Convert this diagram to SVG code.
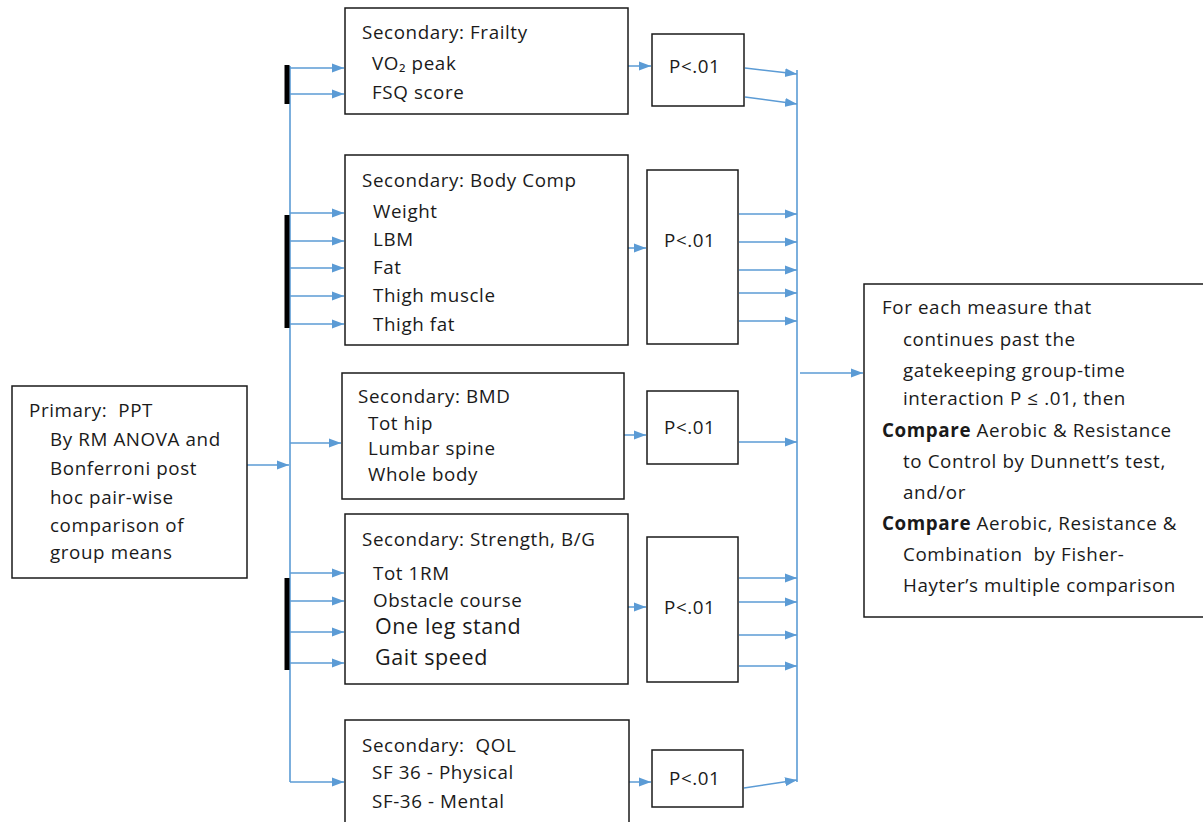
<svg xmlns="http://www.w3.org/2000/svg" width="1203" height="822" viewBox="0 0 1203 822">
<style>
.box{fill:#fff;stroke:#1a1a1a;stroke-width:1.5}
.t{font-family:"Open Sans",Lato,"Liberation Sans",sans-serif;font-size:18.8px;letter-spacing:0.6px;fill:#1a1a1a;white-space:pre}
.tl{font-size:21.5px}
.c{fill:none;stroke:#5b9bd5;stroke-width:1.6}
.a{fill:none;stroke:#5b9bd5;stroke-width:1.6;marker-end:url(#ah)}
.bar{stroke:#000;stroke-width:5}
.b{font-weight:bold}
</style>
<defs>
<marker id="ah" viewBox="0 0 12 10" refX="12" refY="5" markerWidth="12" markerHeight="10" markerUnits="userSpaceOnUse" orient="auto">
<path d="M0,0.5 L12,5 L0,9.5 z" fill="#5b9bd5"/>
</marker>
</defs>
<rect width="1203" height="822" fill="#fff"/>

<g id="connectors">
<line class="c" x1="290" y1="66" x2="290" y2="782"/>
<line class="c" x1="797" y1="70" x2="797" y2="782"/>
<line class="bar" x1="287" y1="65" x2="287" y2="104"/>
<line class="bar" x1="287" y1="215" x2="287" y2="328"/>
<line class="bar" x1="287" y1="578" x2="287" y2="670"/>
<line class="a" x1="247" y1="465" x2="289" y2="465"/>
<line class="a" x1="290" y1="68" x2="344" y2="68"/>
<line class="a" x1="290" y1="94" x2="344" y2="94"/>
<line class="a" x1="290" y1="213" x2="344" y2="213"/>
<line class="a" x1="290" y1="241" x2="344" y2="241"/>
<line class="a" x1="290" y1="268" x2="344" y2="268"/>
<line class="a" x1="290" y1="296" x2="344" y2="296"/>
<line class="a" x1="290" y1="324" x2="344" y2="324"/>
<line class="a" x1="290" y1="443" x2="341" y2="443"/>
<line class="a" x1="290" y1="573" x2="344" y2="573"/>
<line class="a" x1="290" y1="601" x2="344" y2="601"/>
<line class="a" x1="290" y1="632" x2="344" y2="632"/>
<line class="a" x1="290" y1="663" x2="344" y2="663"/>
<line class="a" x1="290" y1="782" x2="344" y2="782"/>
<line class="a" x1="596" y1="66" x2="651" y2="66"/>
<line class="a" x1="598" y1="248" x2="646" y2="248"/>
<line class="a" x1="593" y1="435" x2="646" y2="435"/>
<line class="a" x1="597" y1="607" x2="646" y2="607"/>
<line class="a" x1="597" y1="782" x2="651" y2="782"/>
<line class="a" x1="745" y1="68" x2="797" y2="74"/>
<line class="a" x1="745" y1="97" x2="797" y2="104"/>
<line class="a" x1="739" y1="214" x2="797" y2="214"/>
<line class="a" x1="739" y1="242" x2="797" y2="242"/>
<line class="a" x1="739" y1="270" x2="797" y2="270"/>
<line class="a" x1="739" y1="293" x2="797" y2="293"/>
<line class="a" x1="739" y1="321" x2="797" y2="321"/>
<line class="a" x1="739" y1="442" x2="797" y2="442"/>
<line class="a" x1="739" y1="578" x2="797" y2="578"/>
<line class="a" x1="739" y1="602" x2="797" y2="602"/>
<line class="a" x1="739" y1="635" x2="797" y2="635"/>
<line class="a" x1="739" y1="666" x2="797" y2="666"/>
<line class="a" x1="744" y1="788" x2="797" y2="780"/>
<line class="a" x1="800" y1="373" x2="863" y2="373"/>
</g>

<g id="primary">
<rect class="box" x="12" y="386" width="235" height="192"/>
<text class="t" x="29" y="417">Primary:  PPT</text>
<text class="t" x="50" y="446">By RM ANOVA and</text>
<text class="t" x="50" y="475">Bonferroni post</text>
<text class="t" x="50" y="504">hoc pair-wise</text>
<text class="t" x="50" y="532">comparison of</text>
<text class="t" x="50" y="559">group means</text>
</g>

<g id="frailty">
<rect class="box" x="345" y="8" width="283" height="106"/>
<text class="t" x="362" y="39">Secondary: Frailty</text>
<text class="t" x="372" y="70">VO₂ peak</text>
<text class="t" x="372" y="99">FSQ score</text>
</g>
<g id="p-frailty">
<rect class="box" x="652" y="34" width="92" height="72"/>
<text class="t" x="669" y="73">P&lt;.01</text>
</g>

<g id="bodycomp">
<rect class="box" x="345" y="155" width="283" height="190"/>
<text class="t" x="362" y="187">Secondary: Body Comp</text>
<text class="t" x="373" y="218">Weight</text>
<text class="t" x="373" y="246">LBM</text>
<text class="t" x="373" y="274">Fat</text>
<text class="t" x="373" y="302">Thigh muscle</text>
<text class="t" x="373" y="331">Thigh fat</text>
</g>
<g id="p-bodycomp">
<rect class="box" x="647" y="170" width="91" height="174"/>
<text class="t" x="664" y="247">P&lt;.01</text>
</g>

<g id="bmd">
<rect class="box" x="342" y="373" width="282" height="126"/>
<text class="t" x="358" y="403">Secondary: BMD</text>
<text class="t" x="368" y="430">Tot hip</text>
<text class="t" x="368" y="455">Lumbar spine</text>
<text class="t" x="368" y="481">Whole body</text>
</g>
<g id="p-bmd">
<rect class="box" x="647" y="391" width="91" height="73"/>
<text class="t" x="664" y="434">P&lt;.01</text>
</g>

<g id="strength">
<rect class="box" x="345" y="514" width="283" height="170"/>
<text class="t" x="362" y="546">Secondary: Strength, B/G</text>
<text class="t" x="373" y="580">Tot 1RM</text>
<text class="t" x="373" y="607">Obstacle course</text>
<text class="t tl" x="375" y="634">One leg stand</text>
<text class="t tl" x="375" y="665">Gait speed</text>
</g>
<g id="p-strength">
<rect class="box" x="647" y="537" width="91" height="145"/>
<text class="t" x="664" y="614">P&lt;.01</text>
</g>

<g id="qol">
<rect class="box" x="345" y="720" width="284" height="110"/>
<text class="t" x="362" y="752">Secondary:  QOL</text>
<text class="t" x="372" y="779">SF 36 - Physical</text>
<text class="t" x="372" y="808">SF-36 - Mental</text>
</g>
<g id="p-qol">
<rect class="box" x="652" y="750" width="91" height="57"/>
<text class="t" x="669" y="785">P&lt;.01</text>
</g>

<g id="final">
<rect class="box" x="864" y="284" width="345" height="333"/>
<text class="t" x="882" y="314">For each measure that</text>
<text class="t" x="903" y="346">continues past the</text>
<text class="t" x="903" y="377">gatekeeping group-time</text>
<text class="t" x="903" y="405">interaction P ≤ .01, then</text>
<text class="t" x="882" y="437"><tspan class="b">Compare</tspan> Aerobic &amp; Resistance</text>
<text class="t" x="903" y="468">to Control by Dunnett’s test,</text>
<text class="t" x="903" y="499">and/or</text>
<text class="t" x="882" y="530"><tspan class="b">Compare</tspan> Aerobic, Resistance &amp;</text>
<text class="t" x="903" y="561">Combination  by Fisher-</text>
<text class="t" x="903" y="592">Hayter’s multiple comparison</text>
</g>
</svg>
